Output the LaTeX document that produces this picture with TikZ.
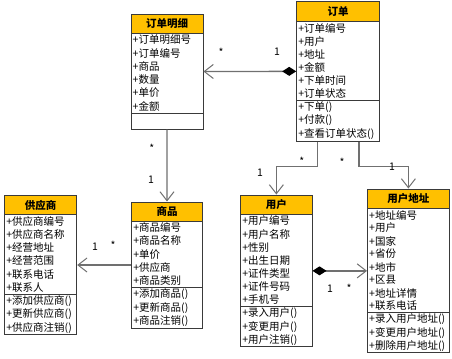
\documentclass[tikz,border=0pt]{standalone}
\usepackage{fontspec}
\setmainfont{Noto Sans CJK SC}
\usetikzlibrary{arrows.meta,fit,calc}
\definecolor{hdr}{HTML}{FFC000}
\definecolor{bord}{HTML}{3A3A3A}
\definecolor{conn}{HTML}{707070}
\newcommand\clsbox[8]{%
  \fill[hdr] (#2,#3) rectangle (#4,#6);
  \node[clsframe, fit={(#2,#3) (#4,#5)}] (#1) {};
  \draw[bord, line width=1bp] (#2,#6) -- (#4,#6);
  \draw[bord, line width=1bp] (#2,#7) -- (#4,#7);
  \node[clstitle] (#1-t) at ({(#2+#4)/2},{(#3+#6)/2}) {#8};
}
\newcommand\cmp[6]{%
  \foreach \t [count=\i] in {#6} {
    \node[attr] (#1\i) at (#2+1.5, {#3+(\i-0.5)*(#4-#3)/#5}) {\t};
  }%
}
\begin{document}
\begin{tikzpicture}[x=1bp,y=-1bp,
  clsframe/.style={draw=bord, line width=1bp, inner sep=0pt},
  clstitle/.style={font=\fontsize{10.5bp}{12bp}\selectfont\bfseries, inner sep=0pt},
  attr/.style={anchor=west, inner sep=0pt, font=\fontsize{10.5bp}{12bp}\selectfont},
  mult/.style={inner sep=0pt, font=\fontsize{10.5bp}{12bp}\selectfont},
  assoc/.style={draw=conn, line width=1.3bp},
  openhead/.style={-{Straight Barb[length=9bp,width=14bp,line width=1bp]}},
  comphead/.style={{Diamond[length=14bp,width=9bp,black]}-{Straight Barb[length=9bp,width=14bp,line width=1bp]}}
]
\useasboundingbox (0,0) rectangle (452,358);
\fill[white] (0,0) rectangle (452,358);

% 订单明细
\clsbox{dmx}{131}{14}{203}{129}{33}{113}{订单明细}
\cmp{dmxa}{131}{33}{113}{6}{+订单明细号,+订单编号,+商品,+数量,+单价,+金额}

% 订单
\clsbox{dd}{296.7}{1.7}{379.3}{141}{21.7}{100}{订单}
\cmp{dda}{296.7}{21.7}{100}{6}{+订单编号,+用户,+地址,+金额,+下单时间,+订单状态}
\cmp{ddm}{296.7}{100}{141}{3}{+下单(),+付款(),+查看订单状态()}

% 供应商
\clsbox{gys}{4.7}{195.3}{76.7}{334.7}{214.7}{294}{供应商}
\cmp{gysa}{4.7}{214.7}{294}{6}{+供应商编号,+供应商名称,+经营地址,+经营范围,+联系电话,+联系人}
\cmp{gysm}{4.7}{294}{334.7}{3}{+添加供应商(),+更新供应商(),+供应商注销()}

% 商品
\clsbox{sp}{131.7}{202}{202.3}{328}{221}{287.5}{商品}
\cmp{spa}{131.7}{221}{287.5}{5}{+商品编号,+商品名称,+单价,+供应商,+商品类别}
\cmp{spm}{131.7}{287.5}{328}{3}{+添加商品(),+更新商品(),+商品注销()}

% 用户
\clsbox{yh}{240.7}{195}{312}{346.7}{214.3}{306.5}{用户}
\cmp{yha}{240.7}{214.3}{306.5}{7}{+用户编号,+用户名称,+性别,+出生日期,+证件类型,+证件号码,+手机号}
\cmp{yhm}{240.7}{306.5}{346.7}{3}{+录入用户(),+变更用户(),+用户注销()}

% 用户地址
\clsbox{yhdz}{367.5}{189}{449.3}{352.7}{208.5}{312.5}{用户地址}
\cmp{yhdza}{367.5}{208.5}{312.5}{8}{+地址编号,+用户,+国家,+省份,+地市,+区县,+地址详情,+联系电话}
\cmp{yhdzm}{367.5}{312.5}{352.7}{3}{+录入用户地址(),+变更用户地址(),+删除用户地址()}

% connectors
\coordinate (dds1) at ($(dd.south west)!0.255!(dd.south east)$);
\coordinate (dds2) at ($(dd.south west)!0.75!(dd.south east)$);
\draw[assoc, comphead] (dd.west) -- (dmx.east);
\draw[assoc, openhead] (dmx.south) -- (sp.north);
\draw[assoc, openhead] (sp.west) -- (gys.east);
\draw[assoc, openhead] (dds1) -- ++(0,25) -| (yh.north);
\draw[assoc, openhead] (dds2) -- ++(0,25) -| (yhdz.north);
\draw[assoc, comphead] (yh.east) -- (yhdz.west);

% multiplicities
\node[mult] (m1) at (221,52) {*};
\node[mult] (m2) at (277,52) {1};
\node[mult] (m3) at (151.7,148) {*};
\node[mult] (m4) at (151,180) {1};
\node[mult] (m5) at (95,246.7) {1};
\node[mult] (m6) at (113,245) {*};
\node[mult] (m7) at (301.7,161) {*};
\node[mult] (m8) at (260,172.7) {1};
\node[mult] (m9) at (342,162) {*};
\node[mult] (m10) at (392,167) {1};
\node[mult] (m11) at (330,289) {1};
\node[mult] (m12) at (349,288) {*};
\end{tikzpicture}
\end{document}
